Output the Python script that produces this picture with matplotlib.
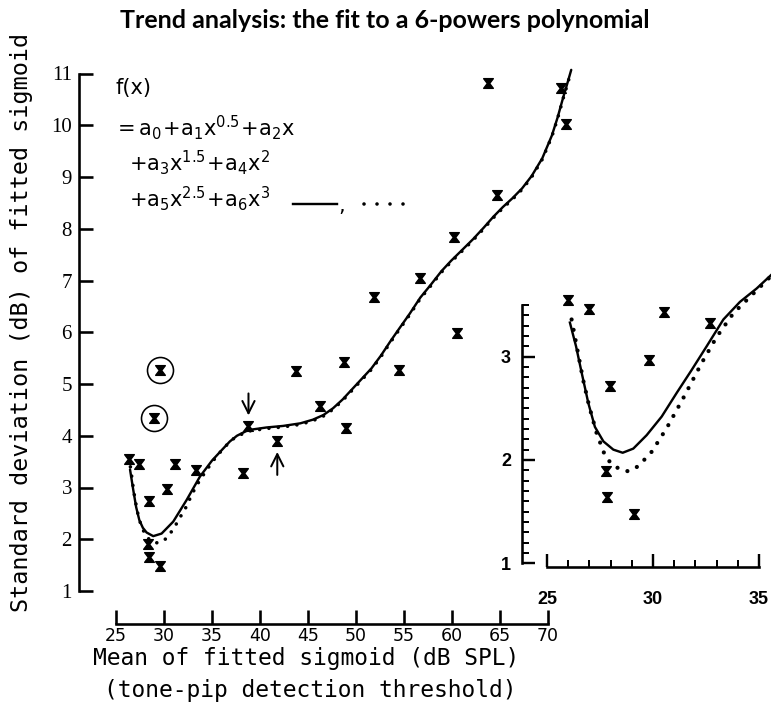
import matplotlib
matplotlib.use("Agg")
import matplotlib.pyplot as plt
from matplotlib.path import Path
from matplotlib.ticker import MultipleLocator, FixedLocator

# ---- measured data: mean of fitted sigmoid vs its standard deviation ----
mean_db = [26.4, 27.4, 28.4, 28.3, 28.4, 29.6, 30.3, 31.1, 33.3, 38.2, 38.8,
           41.8, 43.7, 46.25, 48.75, 49.0, 51.9, 54.5, 56.7, 60.2, 60.5,
           63.7, 64.7, 71.4, 71.9]
sd_db = [3.55, 3.46, 2.73, 1.90, 1.65, 1.48, 2.98, 3.45, 3.33, 3.28, 4.18,
         3.90, 5.25, 4.57, 5.43, 4.15, 6.69, 5.27, 7.05, 7.85, 5.99,
         10.81, 8.65, 10.72, 10.03]

# circled outliers
outlier_mean = [29.6, 29.0]
outlier_sd = [5.28, 4.34]

# points marked by arrows (mean, sd, direction)
arrow_mean = [38.8, 41.8]
arrow_sd = [4.18, 3.90]
arrow_dir = ["down", "up"]

# fitted polynomial, all points (solid)
fit_all_x = [26.46, 26.80, 27.10, 27.43, 27.80, 28.19, 28.88, 29.75, 30.96,
             32.36, 33.74, 35.00, 36.00, 36.86, 37.60, 38.77, 40.68, 42.41,
             44.20, 45.50, 46.60, 47.60, 48.60, 49.60, 50.60, 51.60, 52.60,
             53.60, 54.50, 55.60, 56.70, 57.80, 58.90, 59.90, 61.00, 62.20,
             63.30, 64.30, 65.30, 66.30, 67.30, 68.30, 69.40, 70.40, 71.00,
             71.60, 72.00, 72.42]
fit_all_y = [3.35, 2.95, 2.62, 2.37, 2.22, 2.13, 2.06, 2.11, 2.34,
             2.76, 3.21, 3.52, 3.72, 3.89, 4.00, 4.11, 4.16, 4.19,
             4.24, 4.31, 4.40, 4.53, 4.70, 4.90, 5.10, 5.30, 5.55,
             5.83, 6.07, 6.36, 6.67, 6.92, 7.18, 7.38, 7.58, 7.80,
             8.02, 8.23, 8.42, 8.59, 8.78, 9.02, 9.36, 9.80, 10.15,
             10.55, 10.80, 11.07]

# fitted polynomial, circled outliers excluded (dotted)
fit_excl_x = [26.50, 26.85, 27.20, 27.60, 28.10, 28.60, 29.20, 29.70, 30.20,
              30.96, 31.60, 32.36, 32.90, 33.60, 34.40, 35.30, 36.30, 37.40,
              38.80, 40.70, 42.40, 44.20, 45.50, 46.60, 47.60, 48.60, 49.60,
              50.60, 51.60, 52.60, 53.60, 54.50, 55.60, 56.70, 57.80, 58.90,
              59.90, 61.00, 62.20, 63.30, 64.30, 65.30, 66.30, 67.30, 68.30,
              69.40, 70.40, 71.00, 71.60, 72.00, 72.42]
fit_excl_y = [3.40, 2.92, 2.55, 2.27, 2.07, 1.97, 1.93, 1.95, 2.01,
              2.19, 2.40, 2.64, 2.87, 3.10, 3.33, 3.56, 3.78, 3.97,
              4.09, 4.14, 4.17, 4.22, 4.29, 4.38, 4.51, 4.68, 4.88,
              5.08, 5.28, 5.53, 5.81, 6.05, 6.34, 6.65, 6.90, 7.16,
              7.36, 7.56, 7.78, 8.00, 8.21, 8.40, 8.57, 8.76, 9.00,
              9.34, 9.78, 10.13, 10.53, 10.78, 11.05]

# enlarged view of the low-threshold region
inset_mean = [26.0, 27.0, 27.95, 27.8, 27.85, 29.1, 29.8, 30.5, 32.7]
inset_sd = [3.55, 3.46, 2.72, 1.89, 1.64, 1.48, 2.97, 3.43, 3.33]
inset_fit_all_x = [26.08, 26.37, 26.64, 26.95, 27.26, 27.66, 28.13, 28.57,
                   29.07, 29.70, 30.41, 31.12, 31.82, 32.53, 33.32, 34.10,
                   34.89, 35.57]
inset_fit_all_y = [3.33, 3.10, 2.84, 2.55, 2.32, 2.18, 2.10, 2.07,
                   2.11, 2.24, 2.42, 2.65, 2.87, 3.10, 3.36, 3.53,
                   3.66, 3.79]
inset_fit_excl_x = [26.16, 26.43, 26.71, 26.99, 27.34, 27.74, 28.05, 28.44,
                    28.84, 29.31, 29.94, 30.65, 31.43, 32.30, 33.00, 33.79,
                    34.58, 35.52]
inset_fit_excl_y = [3.36, 3.07, 2.77, 2.52, 2.26, 2.04, 1.96, 1.91,
                    1.89, 1.94, 2.08, 2.31, 2.60, 2.94, 3.19, 3.42,
                    3.58, 3.77]

x_ticks = [25, 30, 35, 40, 45, 50, 55, 60, 65, 70]
y_ticks = [1, 2, 3, 4, 5, 6, 7, 8, 9, 10, 11]
inset_x_ticks = [25, 30, 35]
inset_y_ticks = [1, 2, 3]

# ---------------------------------------------------------------------------
W, H, DPI = 771, 722, 100
PT = 72.0 / DPI  # points per pixel

plt.rcParams["font.family"] = ["DejaVu Sans"]
plt.rcParams["mathtext.fontset"] = "dejavusans"

fig = plt.figure(figsize=(W / DPI, H / DPI), dpi=DPI)
fig.patch.set_facecolor("white")


def fx(px):
    return px / W


def fy(py):
    return 1.0 - py / H


# hourglass marker used for the data points
hourglass = Path(
    [(-0.5, 0.5), (0.5, 0.5), (0.12, 0.0), (0.5, -0.5), (-0.5, -0.5),
     (-0.12, 0.0), (-0.5, 0.5)],
    [Path.MOVETO, Path.LINETO, Path.LINETO, Path.LINETO, Path.LINETO,
     Path.LINETO, Path.CLOSEPOLY],
)

# ---- main panel ----
ax = fig.add_axes([fx(116), fy(591), fx(548) - fx(116), fy(73.5) - fy(591)])
ax.set_xlim(25, 70)
ax.set_ylim(1, 11)
ax.patch.set_visible(False)
for side in ("top", "right"):
    ax.spines[side].set_visible(False)
ax.spines["left"].set_position(("outward", 37 * PT))
ax.spines["bottom"].set_position(("outward", 33 * PT))
ax.spines["left"].set_bounds(1, 11)
ax.spines["bottom"].set_bounds(25, 70)
for side in ("left", "bottom"):
    ax.spines[side].set_linewidth(2.6 * PT)
ax.set_xticks(x_ticks)
ax.set_yticks(y_ticks)
ax.tick_params(axis="both", direction="in", length=14 * PT, width=2.6 * PT)
ax.tick_params(axis="x", pad=3 * PT, labelsize=12.5)
ax.tick_params(axis="y", pad=7 * PT, labelsize=15)
for lab in ax.get_yticklabels():
    lab.set_fontfamily("Liberation Serif")

ax.plot(fit_all_x, fit_all_y, color="black", lw=2.4 * PT, clip_on=False,
        solid_capstyle="round")
ax.plot(fit_excl_x, fit_excl_y, color="black", lw=3.6 * PT, clip_on=False,
        linestyle=(0, (0.01, 2.6)), dash_capstyle="round")
ax.plot(mean_db, sd_db, linestyle="none", marker=hourglass, markersize=7,
        color="black", clip_on=False)
ax.plot(outlier_mean, outlier_sd, linestyle="none", marker=hourglass,
        markersize=7, color="black", clip_on=False)
ax.plot(outlier_mean, outlier_sd, linestyle="none", marker="o",
        markersize=26 * PT, mfc="none", mec="black", mew=1.6 * PT,
        clip_on=False)

for xm, ym, d in zip(arrow_mean, arrow_sd, arrow_dir):
    off = 33 * PT if d == "down" else -34 * PT
    ax.annotate("", xy=(xm, ym), xytext=(0, off), textcoords="offset points",
                arrowprops=dict(arrowstyle="->", lw=2.0 * PT, color="black",
                                shrinkA=0, shrinkB=11 * PT,
                                mutation_scale=22))

# formula legend
fs = 15
fig.text(fx(116), fy(88), r"f(x)", fontsize=fs, va="center", ha="left")
fig.text(fx(113), fy(128),
         r"$\mathregular{=a_0\!+\!a_1x^{0.5}\!+\!a_2x}$",
         fontsize=fs, va="center", ha="left")
fig.text(fx(129), fy(163),
         r"$\mathregular{+a_3x^{1.5}\!+\!a_4x^2}$",
         fontsize=fs, va="center", ha="left")
fig.text(fx(129), fy(199),
         r"$\mathregular{+a_5x^{2.5}\!+\!a_6x^3}$",
         fontsize=fs, va="center", ha="left")
fig.add_artist(plt.Line2D([fx(293), fx(337)], [fy(204), fy(204)],
                          color="black", lw=2.4 * PT))
fig.text(fx(342), fy(206), ",", fontsize=fs, va="center", ha="center")
fig.add_artist(plt.Line2D([fx(364), fx(404)], [fy(204), fy(204)],
                          color="black", lw=3.6 * PT,
                          linestyle=(0, (0.01, 3.6)), dash_capstyle="round"))

# axis labels and title
mono = ["DejaVu Sans Mono"]
fig.text(fx(306), fy(658), "Mean of fitted sigmoid (dB SPL)", fontsize=16.5,
         family=mono, ha="center", va="center")
fig.text(fx(310), fy(691), "(tone-pip detection threshold)", fontsize=16.5,
         family=mono, ha="center", va="center")
fig.text(fx(22), fy(322), "Standard deviation (dB) of fitted sigmoid",
         fontsize=16.8, family=mono, rotation=90, ha="center", va="center")
fig.text(fx(385), fy(21), "Trend analysis: the fit to a 6-powers polynomial",
         fontsize=18, fontweight="bold", family=["Lato", "DejaVu Sans"],
         ha="center", va="center")

# ---- inset panel ----
ins = fig.add_axes([fx(547), fy(563.3), fx(759) - fx(547),
                    fy(305) - fy(563.3)])
ins.set_xlim(25, 35)
ins.set_ylim(1, 3.5)
ins.patch.set_visible(False)
for side in ("top", "right"):
    ins.spines[side].set_visible(False)
ins.spines["left"].set_position(("outward", 25 * PT))
ins.spines["bottom"].set_position(("outward", 3.7 * PT))
ins.spines["left"].set_bounds(1, 3.5)
ins.spines["bottom"].set_bounds(25, 35)
for side in ("left", "bottom"):
    ins.spines[side].set_linewidth(2.6 * PT)
ins.xaxis.set_major_locator(FixedLocator(inset_x_ticks))
ins.yaxis.set_major_locator(FixedLocator(inset_y_ticks))
ins.xaxis.set_minor_locator(MultipleLocator(1))
ins.yaxis.set_minor_locator(MultipleLocator(0.1))
ins.tick_params(which="major", direction="in", length=13 * PT,
                width=2.4 * PT)
ins.tick_params(which="minor", direction="in", length=7 * PT, width=2.0 * PT)
ins.tick_params(axis="x", which="major", pad=24 * PT)
ins.tick_params(axis="y", which="major", pad=11 * PT)
for lab in ins.get_xticklabels() + ins.get_yticklabels():
    lab.set_fontfamily("Liberation Sans")
    lab.set_fontweight("bold")
    lab.set_fontsize(13)

ins.plot(inset_fit_all_x, inset_fit_all_y, color="black", lw=2.4 * PT,
         clip_on=False)
ins.plot(inset_fit_excl_x, inset_fit_excl_y, color="black", lw=4.2 * PT,
         clip_on=False, linestyle=(0, (0.01, 2.5)), dash_capstyle="round")
ins.plot(inset_mean, inset_sd, linestyle="none", marker=hourglass,
         markersize=7, color="black", clip_on=False)

fig.savefig("out.png", dpi=DPI, facecolor="white")
